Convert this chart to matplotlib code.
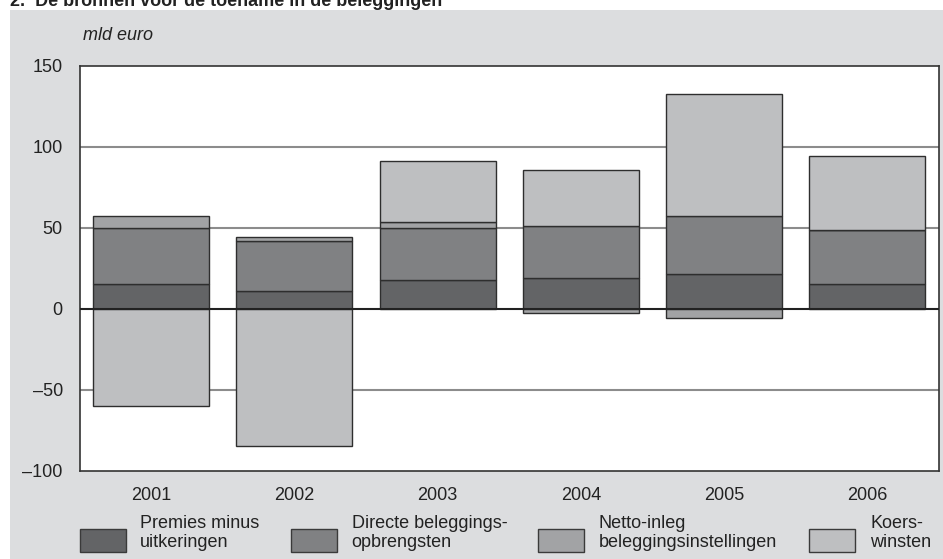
import numpy as np
import matplotlib.pyplot as plt
from matplotlib.patches import Rectangle

# ---------------------------------------------------------------
# Data (mld euro)
# ---------------------------------------------------------------
years = ['2001', '2002', '2003', '2004', '2005', '2006']
premies = [15, 11, 17.5, 19, 21.5, 15.5]
directe = [35, 31, 32.5, 32, 35.5, 33]
netto = [7, 2.5, 3.5, -2.5, -6, 0]
koers = [-60, -85, 38, 34.5, 75.5, 46]

series = [premies, directe, netto, koers]
labels = ['Premies minus\nuitkeringen', 'Directe beleggings-\nopbrengsten',
          'Netto-inleg\nbeleggingsinstellingen', 'Koers-\nwinsten']
colors = ['#636466', '#808183', '#a2a3a5', '#bebfc1']

W, H = 943, 559
plt.rcParams['font.family'] = ['Liberation Sans', 'DejaVu Sans']
fig = plt.figure(figsize=(W / 100, H / 100), dpi=100)

# grey panel behind the chart
fig.add_artist(Rectangle((10 / W, 0), 1, 1 - 10 / H, transform=fig.transFigure,
                         facecolor='#dcdddf', edgecolor='none', zorder=-10))

fig.text(10 / W, 1 - 6 / H, '2.  De bronnen voor de toename in de beleggingen',
         fontsize=13, fontweight='bold', va='baseline', ha='left', color='#222222')

ax = fig.add_axes([79.5 / W, 1 - 470.5 / H, 859.5 / W, 404.5 / H])
ax.set_facecolor('white')

# ---------------------------------------------------------------
# Stacked bars, positives up from zero and negatives down
# ---------------------------------------------------------------
x = np.arange(len(years))
pos_base = np.zeros(len(years))
neg_base = np.zeros(len(years))
for vals, col in zip(series, colors):
    vals = np.array(vals, dtype=float)
    base = np.where(vals >= 0, pos_base, neg_base)
    ax.bar(x, vals, width=0.81, bottom=base, color=col,
           edgecolor='#2e2e2e', linewidth=1.0, zorder=3)
    pos_base += np.where(vals > 0, vals, 0)
    neg_base += np.where(vals < 0, vals, 0)

ax.set_xlim(-0.5, len(years) - 0.5)
ax.set_ylim(-100, 150)
ax.set_yticks([-100, -50, 0, 50, 100, 150])
ax.set_yticklabels(['\u2013100', '\u201350', '0', '50', '100', '150'])
ax.set_xticks(x)
ax.set_xticklabels(years)
ax.tick_params(length=0, labelsize=13, colors='#222222')
ax.tick_params(axis='y', pad=12)
ax.tick_params(axis='x', pad=12)

for yv in [-50, 50, 100]:
    ax.axhline(yv, color='#8c8c8c', linewidth=1.5, zorder=1)
ax.axhline(0, color='#222222', linewidth=1.5, zorder=4)

for side in ax.spines.values():
    side.set_color('#333333')
    side.set_linewidth(1.2)

fig.text(83 / W, 1 - 35 / H, 'mld euro', fontsize=13, style='italic',
         va='center', ha='left', color='#222222')

# ---------------------------------------------------------------
# Legend along the bottom
# ---------------------------------------------------------------
patch_x = [79.5, 290.7, 538.3, 809]
text_x = [140, 351.7, 599, 870]
for px, tx, col, lab in zip(patch_x, text_x, colors, labels):
    fig.add_artist(Rectangle((px / W, 1 - 552 / H), 46 / W, 23.5 / H,
                             transform=fig.transFigure, facecolor=col,
                             edgecolor='#3a3a3a', linewidth=1.0))
    fig.text(tx / W, 1 - 533 / H, lab, fontsize=13, va='center', ha='left',
             linespacing=1.17, color='#222222')

fig.savefig('out.png', dpi=100)
